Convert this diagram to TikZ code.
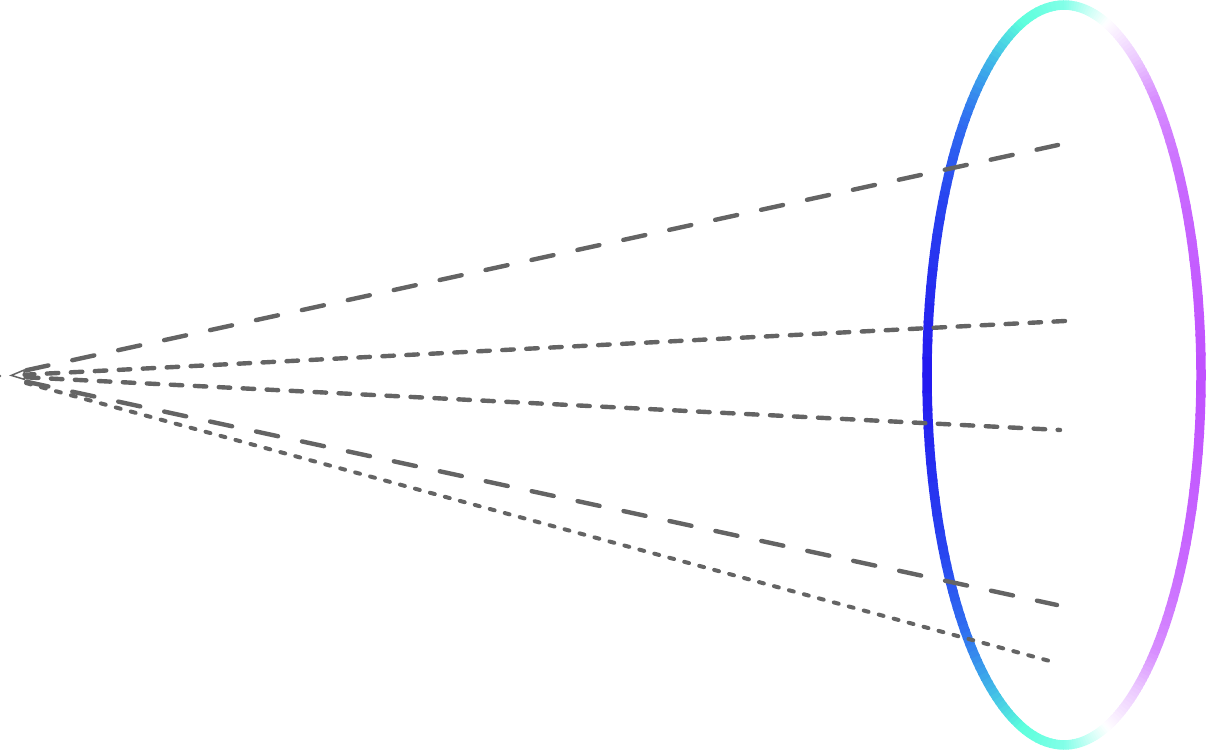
\documentclass[tikz,border=0pt]{standalone}
\usetikzlibrary{arrows.meta}
\definecolor{linegray}{RGB}{100,100,100}
\definecolor{g0}{RGB}{192,80,255}
\definecolor{g1}{RGB}{200,104,255}
\definecolor{g2}{RGB}{215,140,255}
\definecolor{g3}{RGB}{235,200,255}
\definecolor{g4}{RGB}{250,240,255}
\definecolor{g5}{RGB}{255,255,255}
\definecolor{g6}{RGB}{200,255,245}
\definecolor{g7}{RGB}{130,255,232}
\definecolor{g8}{RGB}{92,255,220}
\definecolor{g9}{RGB}{64,184,232}
\definecolor{g10}{RGB}{48,112,240}
\definecolor{g11}{RGB}{40,68,240}
\definecolor{g12}{RGB}{36,24,240}
\tikzset{
  ring/.style={line width=9.5pt, line cap=butt},
  raybase/.style={draw=linegray, line width=4.4pt, line cap=round},
  longdash/.style={raybase, dash pattern=on 22.5pt off 24.5pt},
  meddash/.style={raybase, dash pattern=on 11.5pt off 12.5pt},
  shortdash/.style={raybase, line width=4pt, dash pattern=on 5pt off 10.5pt},
}
\begin{document}
\begin{tikzpicture}[x=1pt,y=1pt]
\useasboundingbox (0,0) rectangle (1207,752);
% gradient ellipse ring
\foreach \a/\b/\ca/\cb in {0/30/g0/g1, 30/48/g1/g2, 48/58/g2/g3, 58/68/g3/g4, 68/72/g4/g5, 72/80/g5/g6, 80/90/g6/g7, 90/108/g7/g8, 108/122/g8/g9, 122/136/g9/g10, 136/152/g10/g11, 152/180/g11/g12}{
  \foreach \i in {0,...,9}{
    \pgfmathsetmacro\tA{\a+(\b-\a)*\i/10}
    \pgfmathsetmacro\tB{\a+(\b-\a)*(\i+1)/10+0.4}
    \pgfmathsetmacro\nA{-\tA}
    \pgfmathsetmacro\nB{-\tB}
    \pgfmathtruncatemacro\pc{95-10*\i}
    \draw[ring, color=\ca!\pc!\cb, shift={(1064,377)}] (\tA:137 and 370) arc[start angle=\tA, end angle=\tB, x radius=137, y radius=370];
    \draw[ring, color=\ca!\pc!\cb, shift={(1064,377)}] (\nA:137 and 370) arc[start angle=\nA, end angle=\nB, x radius=137, y radius=370];
  }
}
% rays
\coordinate (apex) at (0,376);
\coordinate (e1) at (1058,607);
\coordinate (e2) at (1065,431);
\coordinate (e3) at (1060,322);
\coordinate (e4) at (1057,147);
\coordinate (e5) at (1057,89);
\fill[linegray] (apex) circle (1.3pt);
\draw[longdash, shorten <=27pt] (apex) -- (e1);
\draw[meddash, shorten >=9pt, -{Triangle[open, length=16pt, width=11pt, line width=1.5pt]}] (e2) -- (apex);
\draw[meddash, shorten <=27pt] (apex) -- (e3);
\draw[longdash, shorten <=27pt] (apex) -- (e4);
\draw[shortdash, shorten <=27pt] (apex) -- (e5);
\end{tikzpicture}
\end{document}
